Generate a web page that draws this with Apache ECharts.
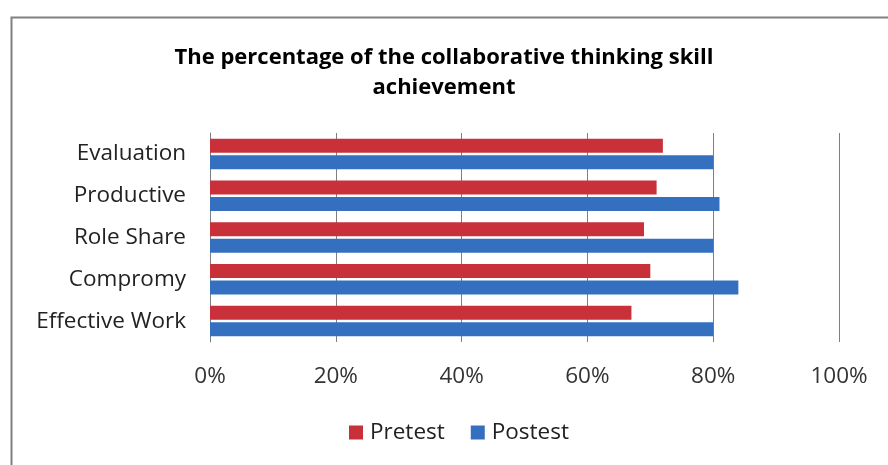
<!DOCTYPE html>
<html><head><meta charset="utf-8">
<script src="https://cdn.jsdelivr.net/npm/echarts@6/dist/echarts.min.js"></script>
<style>html,body{margin:0;padding:0;background:#fff}#c{width:888px;height:465px}</style>
</head><body><div id="c"></div>
<script>
const categories = ['Evaluation','Productive','Role Share','Compromy','Effective Work'];
const pretest = [72, 71, 69, 70, 67];
const postest = [80, 81, 80, 84, 80];
const xTicks = [0, 20, 40, 60, 80, 100];
const titleLines = ['The percentage of the collaborative thinking skill', 'achievement'];

const chart = echarts.init(document.getElementById('c'));
const FONT = 'Open Sans';
chart.setOption({
  animation: false,
  backgroundColor: '#fff',
  graphic: [{
    type: 'rect', left: 9, top: 15, shape: {width: 900, height: 470},
    style: {fill: 'none', stroke: '#808080', lineWidth: 2}, silent: true
  }],
  title: {
    text: titleLines.join('\n'), left: 'center', top: 38,
    textStyle: {fontFamily: FONT, fontWeight: 'bold', fontSize: 22, lineHeight: 30, color: '#000'}
  },
  legend: {
    data: ['Pretest','Postest'], bottom: 16, left: 344,
    itemWidth: 14, itemHeight: 14, icon: 'rect', itemGap: 26,
    textStyle: {fontFamily: FONT, fontSize: 22.5, color: '#222', padding: [0,0,0,2]}
  },
  grid: {left: 210, right: 49, top: 133, bottom: 123, containLabel: false},
  xAxis: {
    type: 'value', min: 0, max: 100, interval: 20,
    axisLine: {show: false}, axisTick: {show: false},
    axisLabel: {formatter: v => xTicks.includes(v) ? v + '%' : '', margin: 23,
      fontFamily: FONT, fontSize: 22.5, color: '#333'},
    splitLine: {show: true, lineStyle: {color: '#7f7f7f', width: 1}}
  },
  yAxis: {
    type: 'category', data: categories, inverse: true,
    axisLine: {show: true, lineStyle: {color: '#7f7f7f', width: 1}},
    axisTick: {show: false},
    axisLabel: {fontFamily: FONT, fontSize: 22.5, color: '#222', margin: 24}
  },
  series: [
    {name: 'Pretest', type: 'bar', data: pretest, barWidth: 14, barGap: '18%',
      itemStyle: {color: '#C8303A'}},
    {name: 'Postest', type: 'bar', data: postest, barWidth: 14, barGap: '18%',
      itemStyle: {color: '#3570C0'}}
  ]
});
</script></body></html>
